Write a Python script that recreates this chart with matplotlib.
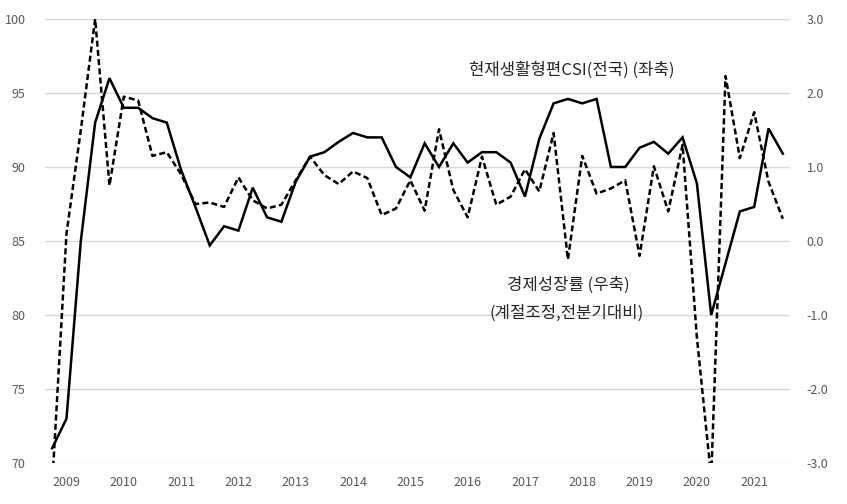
import matplotlib
matplotlib.use("Agg")
import matplotlib.pyplot as plt
import numpy as np

plt.rcParams['font.family'] = ['Noto Sans CJK KR', 'DejaVu Sans']

# quarterly, 2008Q4 .. 2021Q3
year_labels = [str(y) for y in range(2009, 2022)]

csi = [71.0, 73.0, 85.0, 93.0, 96.0, 94.0, 94.0, 93.3, 93.0, 89.8,
       87.3, 84.7, 86.0, 85.7, 88.6, 86.6, 86.3, 89.0, 90.7, 91.0,
       91.7, 92.3, 92.0, 92.0, 90.0, 89.3, 91.6, 90.0, 91.6, 90.3,
       91.0, 91.0, 90.3, 88.0, 91.9, 94.3, 94.6, 94.3, 94.6, 90.0,
       90.0, 91.3, 91.7, 90.9, 92.0, 88.9, 80.0, 83.5, 87.0, 87.3,
       92.6, 90.9]

gdp = [-3.3, 0.1, 1.5, 3.0, 0.75, 1.95, 1.9, 1.15, 1.2, 0.9,
       0.5, 0.52, 0.46, 0.86, 0.55, 0.44, 0.49, 0.82, 1.14, 0.89,
       0.77, 0.94, 0.85, 0.35, 0.44, 0.82, 0.41, 1.51, 0.69, 0.32,
       1.14, 0.49, 0.6, 0.97, 0.67, 1.46, -0.25, 1.15, 0.64, 0.71,
       0.82, -0.2, 1.01, 0.4, 1.3, -1.3, -3.2, 2.23, 1.12, 1.74,
       0.8, 0.3]

x = np.arange(len(csi))
tick_color = "#595959"

fig = plt.figure(figsize=(8.47, 5.04), dpi=100)
ax = fig.add_axes([45 / 847, 1 - 463 / 504, 745 / 847, 444 / 504])
ax2 = ax.twinx()

ax.plot(x, csi, color="black", linewidth=1.8, solid_joinstyle="miter")
ax2.plot(x, gdp, color="black", linewidth=1.8, linestyle=(0, (2.4, 1.3)))

ax.set_xlim(-0.5, len(csi) - 0.5)
ax.set_ylim(70, 100)
ax2.set_ylim(-3, 3)
ax.set_yticks(np.arange(70, 101, 5))
ax2.set_yticks(np.arange(-3, 4, 1))
ax2.set_yticklabels([f"{v:.1f}" for v in np.arange(-3, 4, 1)])
ax.set_xticks(np.arange(1, len(csi), 4))
ax.set_xticklabels(year_labels)

ax.grid(axis="y", color="#d9d9d9", linewidth=1.0)
ax.set_axisbelow(True)
for a in (ax, ax2):
    for s in a.spines.values():
        s.set_visible(False)
    a.tick_params(length=0, labelsize=9, labelcolor=tick_color)
ax.tick_params(axis="y", pad=14)
ax.tick_params(axis="x", pad=9)
ax2.tick_params(axis="y", pad=12)

ax.text(36.3, 96.55, "현재생활형편CSI(전국) (좌축)", ha="center", va="center",
        fontsize=12, color="#262626")
ax.text(36.0, 82.0, "경제성장률 (우축)", ha="center", va="center",
        fontsize=12, color="#262626")
ax.text(35.9, 80.1, "(계절조정,전분기대비)", ha="center", va="center",
        fontsize=12, color="#262626")

fig.savefig("out.png", dpi=100)
